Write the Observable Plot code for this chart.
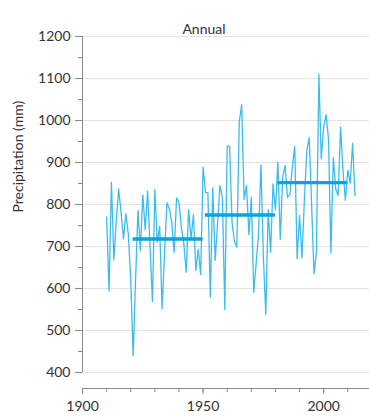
<!DOCTYPE html>
<html>
<head>
<meta charset="utf-8">
<script src="https://cdn.jsdelivr.net/npm/d3@7"></script>
<script src="https://cdn.jsdelivr.net/npm/@observablehq/plot@0.6"></script>
<style>
  html, body { margin: 0; padding: 0; background: #fff; }
  #chart svg { display: block; }
</style>
</head>
<body>
<div id="chart"></div>
<script>
const title = "Annual";
const yLabel = "Precipitation (mm)";
const firstYear = 1910;
const precipitation = [
  770, 594, 853, 668, 760, 837, 780, 718, 778, 730,
  620, 440, 620, 786, 690, 823, 740, 832, 700, 569,
  836, 710, 748, 552, 679, 804, 790, 758, 686, 816,
  805, 745, 707, 639, 788, 718, 776, 643, 693, 633,
  889, 829, 828, 579, 840, 667, 755, 845, 817, 550,
  939, 939, 758, 712, 698, 996, 1038, 812, 845, 728,
  817, 591, 660, 730, 894, 675, 538, 788, 686, 849,
  787, 901, 717, 865, 893, 817, 824, 889, 938, 671,
  774, 673, 810, 929, 959, 800, 635, 686, 1110, 909,
  984, 1014, 956, 684, 911, 837, 821, 984, 881, 810,
  881, 851, 946, 821
];
const periodStart = [1921, 1951, 1981];
const periodEnd = [1950, 1980, 2010];
const periodMean = [718, 775, 852];
const xTicks = [1900, 1950, 2000];
const xMinorTicks = [1900, 1910, 1920, 1930, 1940, 1950, 1960, 1970, 1980, 1990, 2000, 2010];
const yTicks = [400, 500, 600, 700, 800, 900, 1000, 1100, 1200];
const yMinorTicks = [450, 550, 650, 750, 850, 950, 1050, 1150];
const xDomain = [1900, 2019];
const yDomain = [400, 1200];

const data = precipitation.map((v, i) => ({year: firstYear + i, value: v}));
const periods = periodStart.map((s, i) => ({start: s, end: periodEnd[i], mean: periodMean[i]}));

const font = "Lato, 'Open Sans', sans-serif";
const textColor = "#333";

const chart = Plot.plot({
  width: 369,
  height: 418,
  marginLeft: 82,
  marginRight: 0,
  marginTop: 36,
  marginBottom: 30,
  style: {fontFamily: font, fontSize: "14px", color: textColor, background: "#fff"},
  x: {domain: xDomain},
  y: {domain: yDomain, range: [372, 36]},
  marks: [
    Plot.gridY(yTicks, {stroke: "#e2e2e2", strokeOpacity: 1, strokeWidth: 1}),
    Plot.ruleX([xDomain[0]], {y1: yDomain[0], y2: yDomain[1], stroke: "#8a8a8a", strokeWidth: 1}),
    Plot.axisY({ticks: yTicks, tickSize: 7, tickPadding: 5, tickFormat: d => String(d), label: null, stroke: "#8a8a8a", fill: textColor, fontSize: 14}),
    Plot.axisY({ticks: yMinorTicks, tickSize: 4, tickFormat: () => "", label: null, stroke: "#8a8a8a"}),
    Plot.frame({anchor: "bottom", stroke: "#8a8a8a"}),
    Plot.axisX({ticks: xTicks, tickSize: 6, tickPadding: 7, tickFormat: d => String(d), label: null, stroke: "#8a8a8a", fill: textColor, fontSize: 14}),
    Plot.axisX({ticks: xMinorTicks, tickSize: 4, tickFormat: () => "", label: null, stroke: "#8a8a8a"}),
    Plot.line(data, {x: "year", y: "value", stroke: "#3bbdec", strokeWidth: 1.3}),
    Plot.ruleY(periods, {x1: "start", x2: "end", y: "mean", stroke: "#0aa2df", strokeWidth: 3.4}),
    Plot.text([title], {frameAnchor: "top", dx: -22, dy: -12.5, fill: textColor, fontSize: 14}),
    Plot.text([yLabel], {frameAnchor: "left", rotate: -90, dx: -64, dy: 0, fill: textColor, fontSize: 14})
  ]
});
document.getElementById("chart").append(chart);
</script>
</body>
</html>
